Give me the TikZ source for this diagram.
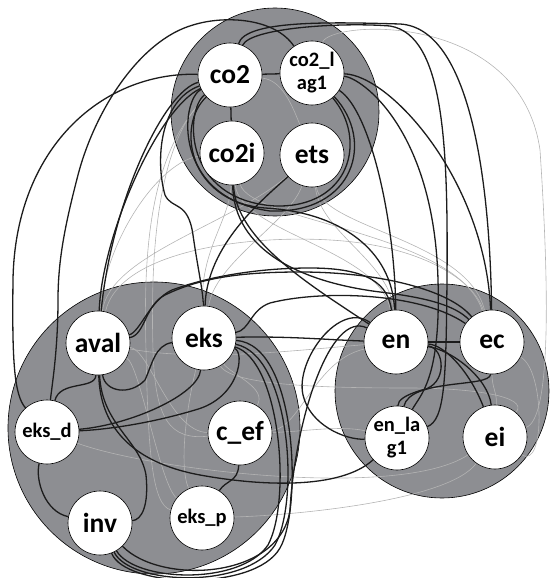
\documentclass[tikz,border=0pt]{standalone}
\usepackage{fontspec}
\setmainfont{Carlito}
\pgfdeclarelayer{bg}
\pgfdeclarelayer{links}
\pgfsetlayers{bg,links,main}
\definecolor{groupgray}{RGB}{141,142,146}
\definecolor{strongc}{RGB}{28,28,28}
\definecolor{weakc}{RGB}{180,180,180}
\tikzset{
  var/.style={circle, draw=black, line width=0.6pt, fill=white, minimum size=64pt,
    inner sep=0pt, font=\fontsize{27.5}{30}\selectfont\bfseries},
  smallvar/.style={var, font=\fontsize{20.5}{23}\selectfont\bfseries, align=center},
  group/.style={circle, draw=black, line width=0.6pt, fill=groupgray, inner sep=0pt},
  strong/.style={draw=strongc, line width=1.3pt},
  weak/.style={draw=weakc, line width=0.6pt},
}
\begin{document}
\begin{tikzpicture}[x=1pt,y=-1pt]
\useasboundingbox (0,0) rectangle (549,578);

% group discs
\begin{pgfonlayer}{bg}
\node[group, minimum size=208pt] (gtop) at (275,112) {};
\node[group, minimum size=292pt] (gleft) at (154,428) {};
\node[group, minimum size=214pt] (gright) at (442,391) {};
\end{pgfonlayer}

% variables
\node[var] (co2) at (230,75) {co2};
\node[smallvar] (co2l) at (312,73) {co2\_l\\ag1};
\node[var] (co2i) at (232,153) {co2i};
\node[var] (ets) at (312,155) {ets};
\node[var] (aval) at (98,343) {aval};
\node[var] (eks) at (204,338) {eks};
\node[smallvar] (eksd) at (47,432) {eks\_d};
\node[var] (cef) at (240,433) {c\_ef};
\node[var] (inv) at (100,523) {inv};
\node[smallvar] (eksp) at (202,518) {eks\_p};
\node[var] (en) at (396,342) {en};
\node[var] (ec) at (492,342) {ec};
\node[smallvar] (enl) at (397,438) {en\_la\\g1};
\node[var] (ei) at (495,437) {ei};

\begin{pgfonlayer}{links}
% weak links
\draw[weak] (co2) .. controls (282,80) and (292,105) .. (ets);
\draw[weak] (co2l) .. controls (330,20) and (520,10) .. (540,150) .. controls (550,300) and (550,420) .. (ei);
\draw[weak] (co2i) .. controls (160,160) and (105,240) .. (aval);
\draw[weak] (co2) .. controls (150,150) and (143,250) .. (146,350) .. controls (148,450) and (152,505) .. (eksp);
\draw[weak] (co2) .. controls (158,140) and (150,250) .. (153,350) .. controls (155,420) and (170,440) .. (cef);
\draw[weak] (eks) .. controls (200,250) and (230,220) .. (co2i);
\draw[weak] (eks) .. controls (215,262) and (290,222) .. (ets);
\draw[weak] (aval) .. controls (110,255) and (230,225) .. (ets);
\draw[weak] (aval) .. controls (120,250) and (250,235) .. (330,240) .. controls (420,245) and (475,280) .. (ec);
\draw[weak] (ets) .. controls (320,232) and (390,262) .. (en);
\draw[weak] (ets) .. controls (322,228) and (468,240) .. (ec);
\draw[weak] (co2i) .. controls (240,232) and (380,250) .. (en);
\draw[weak] (co2i) .. controls (250,222) and (458,232) .. (ec);
\draw[weak] (aval) .. controls (150,350) and (170,432) .. (cef);
\draw[weak] (aval) .. controls (140,365) and (160,485) .. (eksp);
\draw[weak] (eks) .. controls (232,386) and (330,388) .. (410,388) .. controls (470,388) and (530,396) .. (ei);
\draw[weak] (eks) .. controls (232,375) and (268,388) .. (cef);
\draw[weak] (eks) .. controls (188,400) and (178,465) .. (eksp);
\draw[weak] (cef) .. controls (300,428) and (315,360) .. (en);
\draw[weak] (cef) .. controls (300,432) and (340,425) .. (enl);
\draw[weak] (eksp) .. controls (300,515) and (450,500) .. (ei);
\draw[weak] (eksd) .. controls (150,470) and (400,500) .. (ei);
\draw[weak] (aval) .. controls (200,362) and (300,350) .. (en);
\draw[weak] (ec) .. controls (545,370) and (545,470) .. (ei);
\draw[weak] (ec) .. controls (492,388) and (497,392) .. (ei);

% strong links inside the top group
\draw[strong] (co2) -- (co2l);
\draw[strong] (co2) -- (co2i);
\draw[strong] (co2) .. controls (185,110) and (182,200) .. (275,206) .. controls (350,208) and (368,140) .. (co2l);
\draw[strong] (co2) .. controls (180,100) and (172,198) .. (270,211) .. controls (355,214) and (375,140) .. (co2l);

% strong links leaving the top group
\draw[strong] (co2) .. controls (176,125) and (188,202) .. (265,208) .. controls (340,212) and (392,250) .. (en);
\draw[strong] (co2i) .. controls (234,250) and (300,282) .. (380,292) .. controls (430,298) and (455,306) .. (ec);
\draw[strong] (co2i) .. controls (236,240) and (310,285) .. (en);
\draw[strong] (co2) .. controls (245,20) and (330,22) .. (400,24) .. controls (470,28) and (490,180) .. (ec);
\draw[strong] (co2) .. controls (250,28) and (340,22) .. (390,26) .. controls (445,35) and (448,150) .. (447,280) .. controls (446,380) and (445,420) .. (enl);
\draw[strong] (co2l) .. controls (390,75) and (485,180) .. (ec);
\draw[strong] (co2l) .. controls (370,110) and (395,220) .. (en);
\draw[strong] (co2l) .. controls (362,78) and (434,130) .. (438,280) .. controls (441,380) and (420,395) .. (enl);
\draw[strong] (co2l) .. controls (275,18) and (225,15) .. (193,25) .. controls (140,40) and (95,110) .. (78,175) .. controls (65,225) and (58,260) .. (58,300) .. controls (58,350) and (52,385) .. (eksd);
\draw[strong] (co2) .. controls (100,72) and (15,150) .. (13,280) .. controls (12,360) and (14,395) .. (eksd);
\draw[strong] (co2) .. controls (165,90) and (112,200) .. (aval);
\draw[strong] (co2) .. controls (158,108) and (102,235) .. (aval);
\draw[strong] (co2) .. controls (160,100) and (155,160) .. (165,195) .. controls (172,210) and (188,200) .. (193,235) .. controls (198,270) and (203,290) .. (eks);
\draw[strong] (eks) .. controls (207,245) and (262,200) .. (ets);

% strong links between the lower groups
\draw[strong] (aval) .. controls (145,335) and (145,305) .. (165,295) .. controls (200,278) and (240,272) .. (300,272) .. controls (380,272) and (450,290) .. (ec);
\draw[strong] (aval) .. controls (140,332) and (150,300) .. (172,290) .. controls (210,276) and (260,268) .. (310,268) .. controls (370,268) and (388,285) .. (en);
\draw[strong] (eks) .. controls (250,330) and (250,310) .. (270,303) .. controls (320,290) and (420,292) .. (ec);
\draw[strong] (eks) .. controls (290,336) and (330,340) .. (en);
\draw[strong] (en) .. controls (340,300) and (295,360) .. (303,395) .. controls (310,425) and (345,440) .. (enl);
\draw[strong] (inv) .. controls (160,585) and (280,580) .. (290,510) .. controls (295,420) and (330,310) .. (en);
\draw[strong] (aval) .. controls (100,425) and (130,462) .. (200,475) .. controls (260,486) and (340,490) .. (enl);

% strong links inside the left group
\draw[strong] (eks) .. controls (290,355) and (300,500) .. (275,545) .. controls (245,590) and (130,585) .. (inv);
\draw[strong] (eks) .. controls (280,360) and (292,500) .. (268,545) .. controls (240,586) and (135,582) .. (inv);
\draw[strong] (eks) .. controls (298,345) and (302,510) .. (280,548) .. controls (255,592) and (125,588) .. (inv);
\draw[strong] (aval) .. controls (95,390) and (60,380) .. (eksd);
\draw[strong] (aval) .. controls (105,392) and (130,396) .. (145,380) .. controls (152,365) and (155,345) .. (eks);
\draw[strong] (aval) .. controls (102,425) and (140,440) .. (146,475) .. controls (149,505) and (142,520) .. (inv);
\draw[strong] (eks) .. controls (198,395) and (130,425) .. (eksd);
\draw[strong] (eks) .. controls (245,352) and (240,398) .. (195,410) .. controls (145,425) and (100,430) .. (eksd);
\draw[strong] (eksd) .. controls (35,480) and (45,512) .. (inv);
\draw[strong] (cef) .. controls (238,482) and (226,480) .. (eksp);

% strong links inside the right group
\draw[strong] (en) -- (ec);
\draw[strong] (en) .. controls (445,345) and (470,372) .. (ei);
\draw[strong] (en) .. controls (452,350) and (488,378) .. (ei);
\draw[strong] (en) .. controls (445,348) and (448,385) .. (422,390) .. controls (405,395) and (398,400) .. (enl);
\draw[strong] (ec) .. controls (490,388) and (410,378) .. (enl);
\end{pgfonlayer}
\end{tikzpicture}
\end{document}
